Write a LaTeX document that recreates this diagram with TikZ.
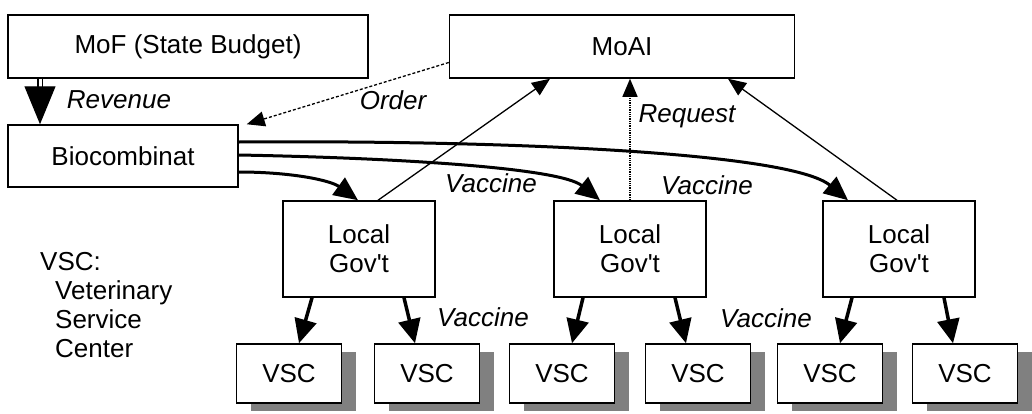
\documentclass[tikz,border=0pt]{standalone}
\usepackage{fontspec}
\setmainfont{Liberation Sans}[Ligatures=TeXOff]
\usetikzlibrary{arrows.meta, shadows}

\begin{document}
\begin{tikzpicture}[
    x=1pt, y=-1pt,
    every node/.style={font=\fontsize{26}{29}\selectfont},
    box/.style={rectangle, draw=black, line width=1.5pt, fill=white, inner sep=0pt, align=center},
    govbox/.style={box, minimum width=152pt, minimum height=96pt},
    vsc/.style={box, minimum width=105pt, minimum height=59pt, drop shadow={shadow xshift=14pt, shadow yshift=-8pt, fill=black!50, opacity=1}},
    lbl/.style={inner sep=0pt, font=\fontsize{26}{29}\selectfont\itshape},
    vacarr/.style={-{Triangle[width=21pt, length=24pt]}, line width=3pt},
    downarr/.style={-{Triangle[width=22pt, length=24pt]}, line width=3.5pt},
    thinarr/.style={-{Triangle[width=15pt, length=18pt]}, line width=1.3pt},
    revarr/.style={double, double distance=3pt, line width=1.2pt, -{Triangle[width=31pt, length=38pt]}}
]
    \useasboundingbox (0,0) rectangle (1032,413);

    \node[box, minimum width=360pt, minimum height=63pt] (mof) at (188,46.5) {MoF (State Budget)};
    \node[box, minimum width=345pt, minimum height=63pt] (moai) at (622,46.5) {MoAI};
    \node[box, minimum width=230pt, minimum height=62pt] (bio) at (123,156) {Biocombinat};

    \node[govbox] (lg1) at (359,249) {Local\\Gov't};
    \node[govbox] (lg2) at (630,249) {Local\\Gov't};
    \node[govbox] (lg3) at (899,249) {Local\\Gov't};

    \node[vsc] (vsc1) at (289,373.5) {VSC};
    \node[vsc] (vsc2) at (427,373.5) {VSC};
    \node[vsc] (vsc3) at (562,373.5) {VSC};
    \node[vsc] (vsc4) at (698,373.5) {VSC};
    \node[vsc] (vsc5) at (830,373.5) {VSC};
    \node[vsc] (vsc6) at (965,373.5) {VSC};

    % legend
    \node[anchor=north west, inner sep=0pt, align=left] (legend) at (40,252)
        {VSC:\\\hspace*{15pt}Veterinary\\\hspace*{15pt}Service\\\hspace*{15pt}Center};

    % labels
    \node[lbl] (revenue) at (119,100) {Revenue};
    \node[lbl] (order) at (393,100) {Order};
    \node[lbl] (request) at (687,116) {Request};
    \node[lbl] (vac1) at (491,183) {Vaccine};
    \node[lbl] (vac2) at (707,185) {Vaccine};
    \node[lbl] (vac3) at (483,317) {Vaccine};
    \node[lbl] (vac4) at (766,318) {Vaccine};

    % funding and orders
    \draw[revarr] ([xshift=-83pt]bio.north |- mof.south) -- ([xshift=-83pt]bio.north);
    \draw[thinarr, dashed, dash pattern=on 3pt off 2pt] ([yshift=-16pt]moai.west) -- ([xshift=8pt]bio.north east);

    % vaccine deliveries
    \draw[vacarr] ([yshift=-16pt]bio.east) .. controls (290,172) and (330,180) .. ([xshift=-1pt]lg1.north);
    \draw[vacarr] ([yshift=1pt]bio.east) .. controls (400,158) and (560,168) .. ([xshift=-30pt]lg2.north);
    \draw[vacarr] ([yshift=14pt]bio.east) .. controls (500,140) and (790,152) .. ([xshift=-51pt]lg3.north);

    % requests
    \draw[thinarr] ([xshift=19pt]lg1.north) -- ([xshift=-72pt]moai.south);
    \draw[thinarr, densely dotted] (lg2.north) -- (lg2.north |- moai.south);
    \draw[thinarr] ([xshift=-2pt]lg3.north) -- ([xshift=106pt]moai.south);

    % local distribution
    \foreach \g/\a/\b in {lg1/vsc1/vsc2, lg2/vsc3/vsc4, lg3/vsc5/vsc6} {
        \draw[downarr] ([xshift=-47pt]\g.south) -- ([xshift=10pt]\a.north);
        \draw[downarr] ([xshift=45pt]\g.south) -- ([xshift=-12pt]\b.north);
    }
\end{tikzpicture}
\end{document}
